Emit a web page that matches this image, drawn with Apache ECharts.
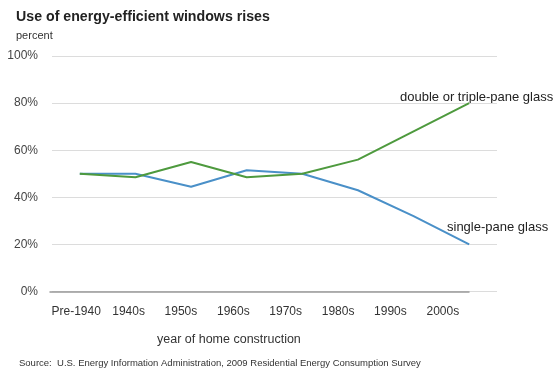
<!DOCTYPE html>
<html>
<head>
<meta charset="utf-8">
<script src="https://cdn.jsdelivr.net/npm/echarts@6/dist/echarts.min.js"></script>
<style>
html,body{margin:0;padding:0;background:#fff;}
#chart{width:555px;height:368px;}
</style>
</head>
<body>
<div id="chart"></div>
<script>
var categories = ['Pre-1940', '1940s', '1950s', '1960s', '1970s', '1980s', '1990s', '2000s'];
var singlePane = [50, 50, 44.5, 51.5, 50, 43, 32, 20];
var doublePane = [50, 48.5, 55, 48.5, 50, 56, 68, 80];
var yTicks = [0, 20, 40, 60, 80, 100];

var font = 'Liberation Sans, Arial, sans-serif';
var chart = echarts.init(document.getElementById('chart'));
chart.setOption({
  animation: false,
  backgroundColor: '#fff',
  textStyle: {fontFamily: font},
  title: [
    {text: 'Use of energy-efficient windows rises', left: 11, top: 5,
     textStyle: {fontSize: 14.2, fontWeight: 'bold', color: '#222', fontFamily: font}},
    {text: 'percent', left: 11, top: 25,
     textStyle: {fontSize: 11, fontWeight: 'normal', color: '#333', fontFamily: font}},
    {text: 'year of home construction', left: 152, top: 328,
     textStyle: {fontSize: 12.5, fontWeight: 'normal', color: '#333', fontFamily: font}},
    {text: 'Source:  U.S. Energy Information Administration, 2009 Residential Energy Consumption Survey', left: 14, top: 353,
     textStyle: {fontSize: 9.5, fontWeight: 'normal', color: '#333', fontFamily: font}}
  ],
  grid: [
    {left: 52, right: 58, top: 56, bottom: 76.5},
    {left: 50, right: 86, top: 56, bottom: 76.5}
  ],
  xAxis: [
    {type: 'category', gridIndex: 0, data: categories, boundaryGap: true,
     axisLine: {show: false}, axisTick: {show: false}, axisLabel: {show: false}},
    {type: 'category', gridIndex: 1, data: categories, boundaryGap: true,
     axisLine: {show: true, lineStyle: {color: '#999', width: 1.5}}, axisTick: {show: false},
     axisLabel: {show: true, interval: 0, fontSize: 12, color: '#333', margin: 14, fontFamily: font}}
  ],
  yAxis: [
    {type: 'value', gridIndex: 0, min: yTicks[0], max: yTicks[yTicks.length - 1], interval: 20,
     axisLine: {show: false}, axisTick: {show: false},
     axisLabel: {formatter: '{value}%', fontSize: 12, color: '#444', margin: 14, fontFamily: font},
     splitLine: {lineStyle: {color: '#dcdcdc', width: 1}}},
    {type: 'value', gridIndex: 1, min: 0, max: 100, show: false, splitLine: {show: false}}
  ],
  graphic: [
    {type: 'text', left: 400, top: 91, style: {text: 'double or triple-pane glass', fontSize: 13, fill: '#222', fontFamily: font}},
    {type: 'text', left: 447, top: 221, style: {text: 'single-pane glass', fontSize: 13, fill: '#222', fontFamily: font}}
  ],
  series: [
    {name: 'single-pane glass', type: 'line', xAxisIndex: 0, yAxisIndex: 0, data: singlePane,
     symbol: 'none', lineStyle: {color: '#4a90c8', width: 2}, itemStyle: {color: '#4a90c8'}},
    {name: 'double or triple-pane glass', type: 'line', xAxisIndex: 0, yAxisIndex: 0, data: doublePane,
     symbol: 'none', lineStyle: {color: '#4e9a3e', width: 2}, itemStyle: {color: '#4e9a3e'}}
  ]
});
</script>
</body>
</html>
